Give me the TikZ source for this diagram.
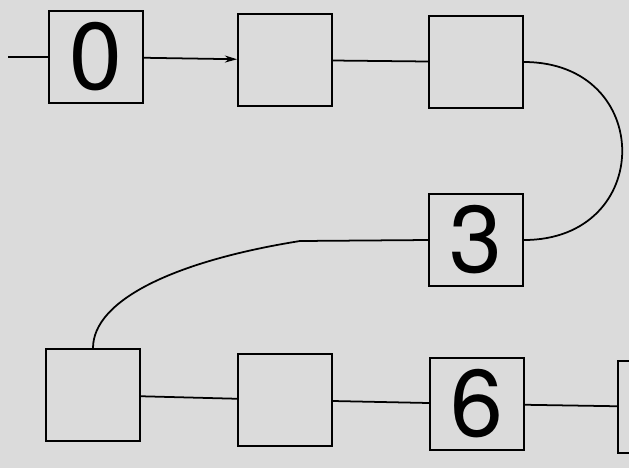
\documentclass[tikz,border=0pt]{standalone}
\usepackage{fontspec}
\setmainfont{TeX Gyre Heros}
\usetikzlibrary{arrows.meta}
\tikzset{cell/.style={draw, line width=1pt, minimum width=1.88cm, minimum height=1.84cm, inner sep=0pt, font=\fontsize{54}{54}\selectfont},
	link/.style={line width=1pt}}

\begin{document}
\begin{tikzpicture}[x=0.02cm, y=-0.02cm]
	\fill[black!14] (0,0) rectangle (629,468);
	\clip (0,0) rectangle (629,468);
	\node[cell] (c0) at (96,57) {0};
	\node[cell] (c1) at (285,60) {};
	\node[cell] (c2) at (476,62) {};
	\node[cell] (c3) at (476,240) {3};
	\node[cell] (c4) at (93,395) {};
	\node[cell] (c5) at (285,400) {};
	\node[cell] (c6) at (477,404) {6};
	\node[cell] (c7) at (665,407) {};
	\coordinate (in) at (8,57);
	\coordinate (bend) at (300,241);
	\draw[link] (in) -- (c0);
	\draw[link, -{Stealth[length=7pt, width=4pt]}] (c0) -- (c1);
	\draw[link] (c1) -- (c2);
	\draw[link] (c2.east) .. controls (655,62) and (655,240) .. (c3.east); % boucle
	\draw[link] (c3.west) -- (bend) .. controls (175,261) and (93,300) .. (c4.north);
	\draw[link] (c4) -- (c5);
	\draw[link] (c5) -- (c6);
	\draw[link] (c6) -- (c7);
\end{tikzpicture}
\end{document}
